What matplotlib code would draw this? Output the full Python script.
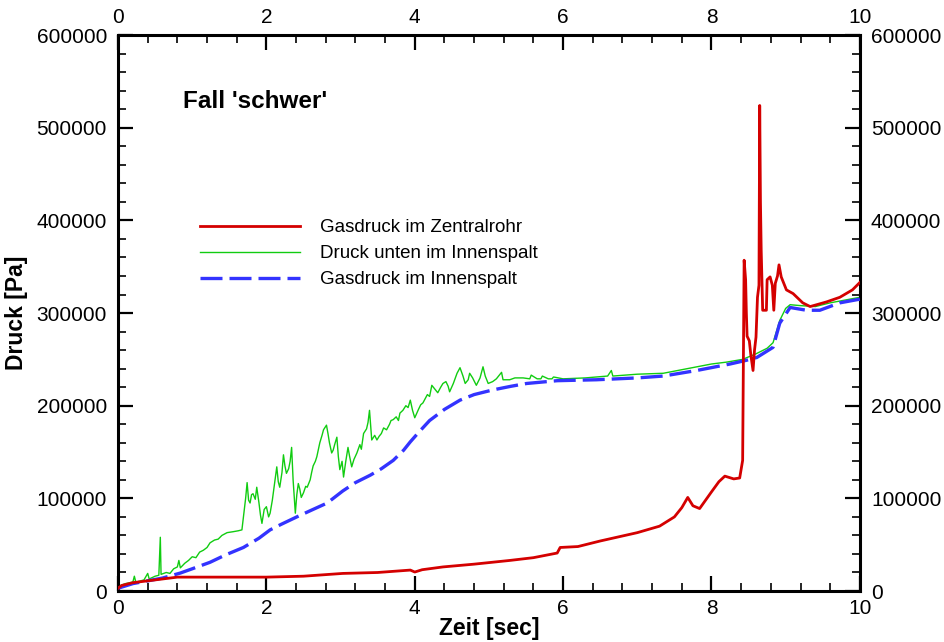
import matplotlib
matplotlib.use("Agg")
import matplotlib.pyplot as plt
from matplotlib.ticker import MultipleLocator, FuncFormatter

plt.rcParams['font.family'] = ['Liberation Sans', 'DejaVu Sans']

# Gasdruck im Zentralrohr (red)
red_t = [0.0, 0.05, 0.2, 0.4, 0.6, 0.8, 1.2, 2.0, 2.5, 3.03, 3.5, 3.94, 4.0, 4.1,
         4.38, 4.8, 5.28, 5.6, 5.92, 5.96, 6.2, 6.5, 7.0, 7.3, 7.5, 7.6, 7.68, 7.75,
         7.84, 8.0, 8.1, 8.18, 8.3, 8.38, 8.42, 8.44, 8.46, 8.47, 8.48, 8.51, 8.53,
         8.56, 8.58, 8.60, 8.62, 8.64, 8.65, 8.66, 8.67, 8.69, 8.74, 8.75, 8.79,
         8.82, 8.84, 8.86, 8.89, 8.91, 8.94, 9.01, 9.10, 9.23, 9.33, 9.55, 9.73,
         9.9, 10.0]
red_p = [3000, 6000, 9000, 11000, 13000, 15000, 15000, 15000, 16000, 19000, 20000,
         22600, 20500, 23000, 26000, 29000, 33000, 36000, 41000, 47000, 48000, 54000,
         63000, 70000, 80000, 90000, 101000, 92000, 89000, 107000, 118000, 124000,
         121000, 122000, 141000, 357000, 336000, 300000, 275000, 270000, 255000,
         238000, 260000, 274000, 317000, 330000, 524000, 420000, 368000, 303000,
         303000, 336000, 339000, 330000, 303000, 332000, 340000, 352000, 339000,
         325000, 321000, 311000, 307000, 312000, 317000, 325000, 333000]

# Druck unten im Innenspalt (green)
green_t = [0.00, 0.10, 0.20, 0.22, 0.24, 0.35, 0.40, 0.42, 0.50, 0.55, 0.57, 0.58,
           0.65, 0.70, 0.75, 0.80, 0.82, 0.84, 0.90, 0.95, 1.00, 1.05, 1.10, 1.15,
           1.20, 1.24, 1.30, 1.35, 1.40, 1.47, 1.55, 1.62, 1.67, 1.69, 1.72, 1.74,
           1.76, 1.78, 1.80, 1.82, 1.85, 1.87, 1.90, 1.92, 1.94, 1.97, 2.00, 2.03,
           2.05, 2.08, 2.10, 2.12, 2.14, 2.16, 2.18, 2.21, 2.23, 2.25, 2.27, 2.30,
           2.32, 2.34, 2.36, 2.39, 2.41, 2.43, 2.45, 2.47, 2.50, 2.53, 2.55, 2.59,
           2.61, 2.63, 2.66, 2.68, 2.72, 2.75, 2.77, 2.81, 2.83, 2.85, 2.88, 2.90,
           2.92, 2.95, 2.97, 2.99, 3.02, 3.04, 3.07, 3.10, 3.12, 3.15, 3.18, 3.22,
           3.26, 3.28, 3.31, 3.35, 3.37, 3.39, 3.42, 3.46, 3.49, 3.52, 3.55, 3.58,
           3.62, 3.66, 3.68, 3.71, 3.75, 3.78, 3.80, 3.84, 3.88, 3.91, 3.94, 3.97,
           4.00, 4.05, 4.08, 4.11, 4.17, 4.20, 4.23, 4.27, 4.31, 4.35, 4.38, 4.42,
           4.45, 4.47, 4.52, 4.57, 4.61, 4.65, 4.68, 4.72, 4.74, 4.78, 4.83, 4.88,
           4.92, 4.95, 4.99, 5.05, 5.10, 5.17, 5.19, 5.28, 5.35, 5.46, 5.55, 5.57,
           5.65, 5.70, 5.72, 5.80, 5.85, 5.87, 6.00, 6.30, 6.60, 6.65, 6.67, 7.00,
           7.35, 7.80, 8.00, 8.20, 8.42, 8.60, 8.75, 8.83, 8.92, 9.00, 9.06, 9.20,
           9.40, 9.60, 9.80, 10.0]
green_p = [5000, 8000, 9700, 16000, 9500, 12000, 19000, 13000, 16000, 17000, 58000,
           18000, 20000, 19000, 24000, 26000, 33000, 25000, 30000, 33000, 37000,
           36000, 42000, 44000, 47000, 52000, 55000, 56000, 60000, 63000, 64000,
           65000, 66000, 80000, 100000, 117000, 98000, 95000, 104000, 105000, 99000,
           112000, 95000, 82000, 73000, 88000, 91000, 80000, 84000, 98000, 110000,
           122000, 134000, 118000, 112000, 128000, 147000, 135000, 127000, 132000,
           140000, 155000, 120000, 84000, 104000, 116000, 110000, 101000, 106000,
           113000, 112000, 120000, 128000, 135000, 140000, 145000, 160000, 168000,
           174000, 179000, 170000, 160000, 149000, 152000, 158000, 166000, 145000,
           131000, 140000, 123000, 140000, 155000, 146000, 134000, 142000, 149000,
           158000, 153000, 170000, 175000, 182000, 195000, 163000, 168000, 163000,
           167000, 170000, 176000, 174000, 180000, 184000, 185000, 188000, 184000,
           192000, 195000, 200000, 198000, 206000, 195000, 187000, 196000, 201000,
           203000, 212000, 210000, 222000, 218000, 214000, 220000, 224000, 226000,
           221000, 215000, 224000, 235000, 241000, 232000, 224000, 228000, 235000,
           230000, 222000, 230000, 242000, 232000, 224000, 226000, 229000, 236000,
           228000, 228000, 230000, 230000, 229000, 233000, 229000, 229000, 232000,
           229000, 229000, 231000, 229000, 230000, 232000, 238000, 232000, 234000,
           235000, 242000, 245000, 247000, 250000, 256000, 262000, 268000, 292000,
           305000, 309000, 308000, 307000, 311000, 314000, 317000]

# Gasdruck im Innenspalt (blue dashed)
blue_t = [0.0, 0.2, 0.4, 0.6, 0.84, 1.0, 1.24, 1.45, 1.69, 1.9, 2.05, 2.2, 2.41, 2.6,
          2.82, 3.03, 3.2, 3.4, 3.55, 3.71, 3.85, 3.94, 4.05, 4.2, 4.4, 4.61, 4.8,
          5.05, 5.3, 5.51, 5.92, 6.45, 7.0, 7.35, 7.8, 8.25, 8.47, 8.61, 8.83, 8.92,
          9.06, 9.28, 9.46, 9.73, 10.0]
blue_p = [3000, 8000, 11000, 14000, 19400, 24000, 31000, 39000, 47000, 57000, 66000,
          72000, 80000, 87000, 95000, 108000, 117000, 125000, 132000, 141000, 152000,
          161000, 171000, 184000, 196000, 206000, 212000, 217000, 221000, 224000,
          227000, 228000, 230000, 232000, 238000, 245000, 249000, 252000, 263000,
          289000, 306000, 303000, 303000, 311000, 315000]

labels = ['Gasdruck im Zentralrohr', 'Druck unten im Innenspalt', 'Gasdruck im Innenspalt']

fig = plt.figure(figsize=(9.45, 6.42), dpi=100)
ax = fig.add_axes([0.1249, 0.0794, 0.785, 0.866])

ax.plot(green_t, green_p, color='#11cc11', lw=1.0, label=labels[1], zorder=2)
ax.plot(blue_t, blue_p, color='#3333ff', lw=2.4, dashes=(6.6, 2.1), label=labels[2], zorder=3)
ax.plot(red_t, red_p, color='#d40000', lw=2.0, label=labels[0], zorder=4)

ax.set_xlim(0, 10)
ax.set_ylim(0, 600000)
ax.xaxis.set_major_locator(MultipleLocator(2))
ax.xaxis.set_minor_locator(MultipleLocator(0.4))
ax.yaxis.set_major_locator(MultipleLocator(100000))
ax.yaxis.set_minor_locator(MultipleLocator(20000))
ax.yaxis.set_major_formatter(FuncFormatter(lambda v, p: f'{int(v)}'))
ax.xaxis.set_major_formatter(FuncFormatter(lambda v, p: f'{int(v)}'))

ax.tick_params(which='both', direction='in', top=True, right=True,
               labeltop=True, labelright=True, labelsize=15)
ax.tick_params(which='major', length=10.8, width=1.6, pad=8)
ax.tick_params(which='minor', length=5.8, width=1.2)
ax.tick_params(axis='x', which='major', pad=6)
for s in ax.spines.values():
    s.set_linewidth(2.2)

ax.set_xlabel('Zeit [sec]', fontsize=16.5, fontweight='bold')
ax.set_ylabel('Druck [Pa]', fontsize=16.5, fontweight='bold')
ax.xaxis.set_label_coords(0.5, -0.047)
ax.yaxis.set_label_coords(-0.121, 0.5)

ax.text(0.0876, 0.869, "Fall 'schwer'", transform=ax.transAxes, fontsize=17.5,
        fontweight='bold', va='baseline')

h, l = ax.get_legend_handles_labels()
order = [2, 0, 1]
ax.legend([h[i] for i in order], [l[i] for i in order], loc='upper left',
          bbox_to_anchor=(0.11, 0.669), frameon=False, fontsize=13.5,
          handlelength=5.33, handletextpad=1.07, labelspacing=0.47, borderpad=0,
          borderaxespad=0)

fig.savefig('out.png', dpi=100)
